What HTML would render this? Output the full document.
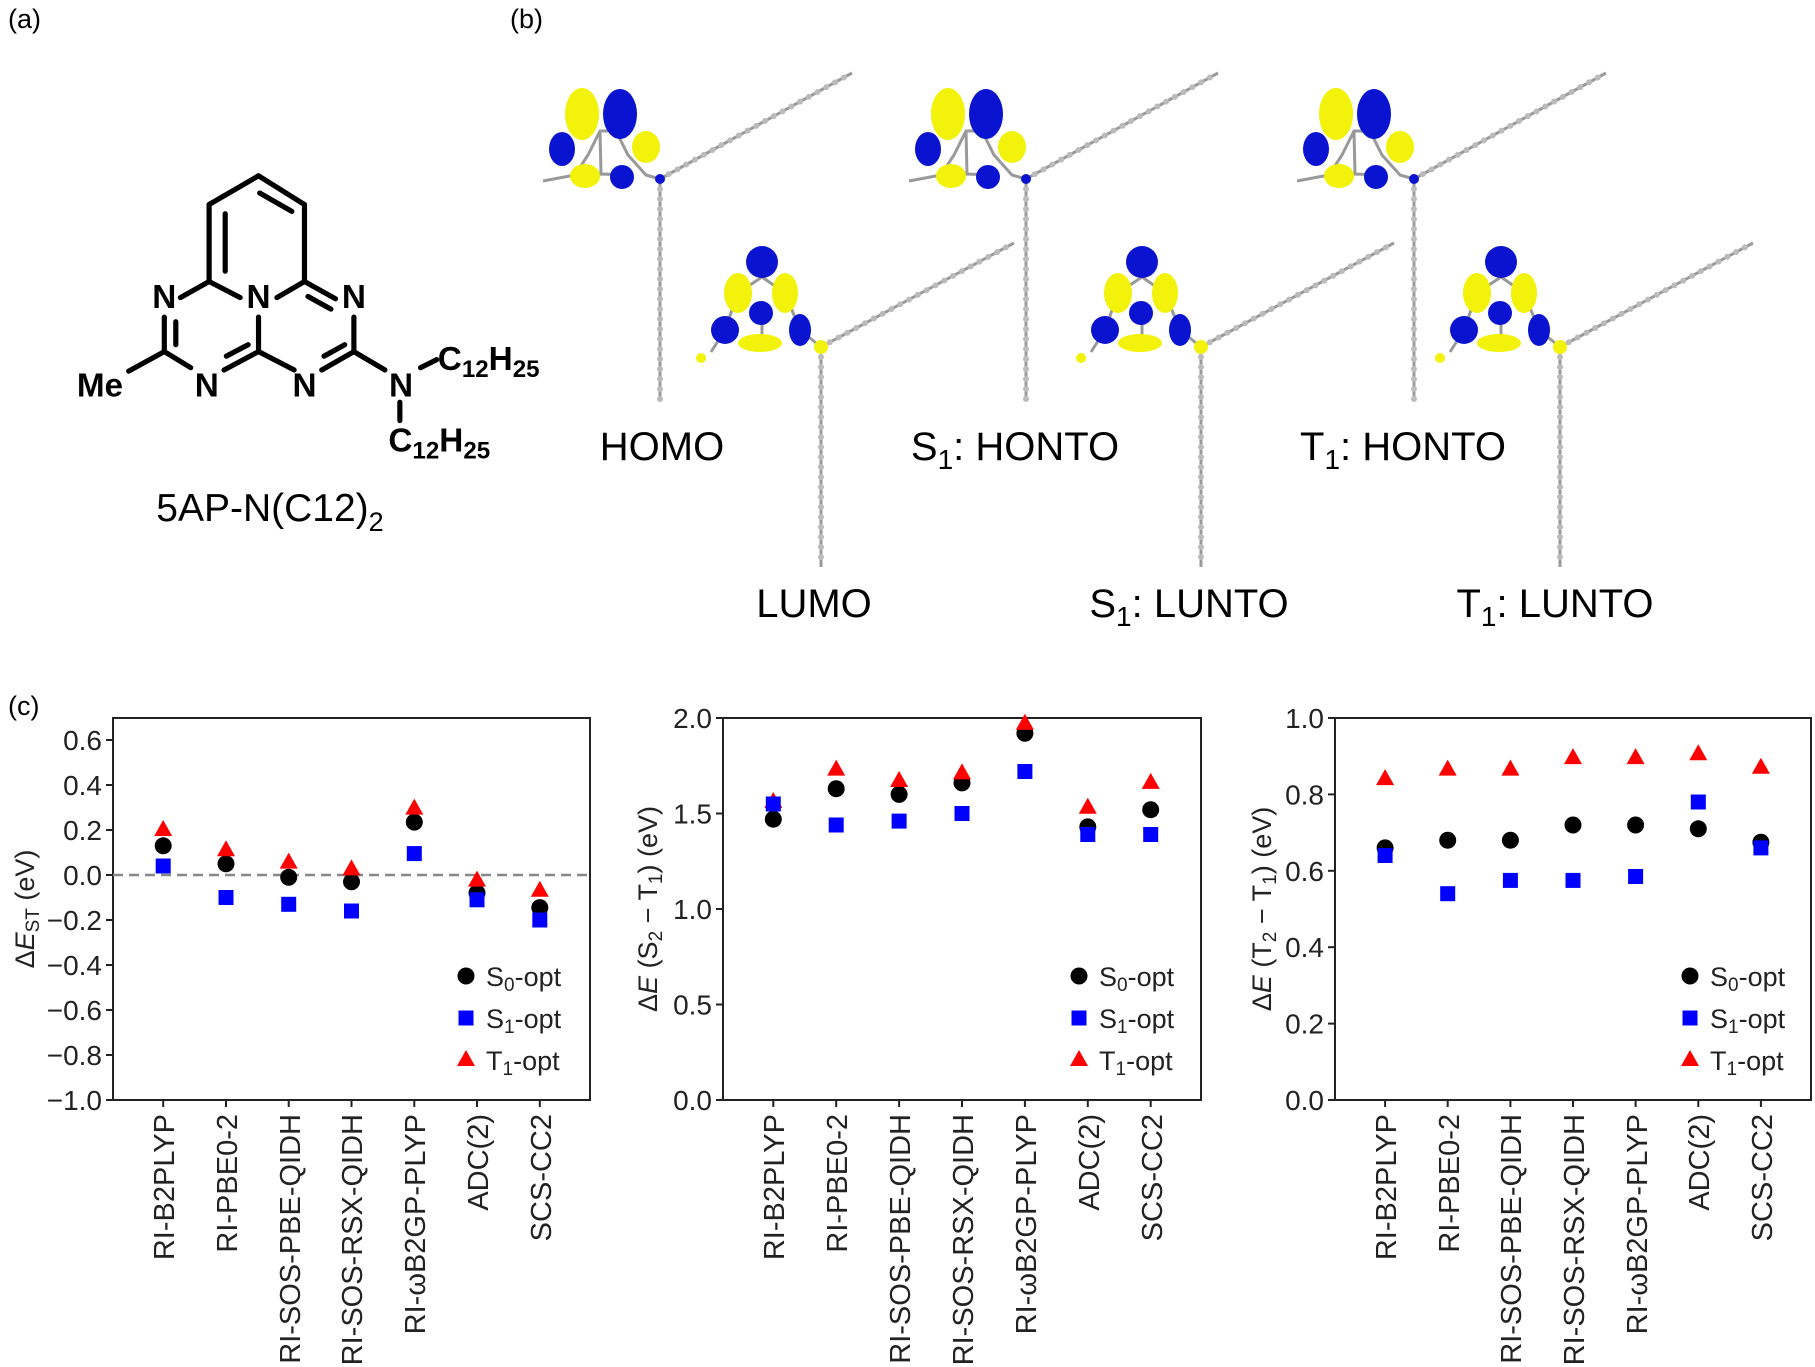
<!DOCTYPE html>
<html><head><meta charset="utf-8"><style>
html,body{margin:0;padding:0;background:#fff}
svg{display:block}
text{font-family:"Liberation Sans",sans-serif}
</style></head><body>
<svg width="1815" height="1367" viewBox="0 0 1815 1367" xmlns="http://www.w3.org/2000/svg">
<defs>
<circle id="c" r="8.5" fill="#000"/>
<rect id="s" x="-7.5" y="-7.5" width="15" height="15" fill="#0000ff"/>
<polygon id="t" points="0,-10 9,6 -9,6" fill="#ff0000"/>
<g id="homo">
 <line x1="0" y1="0" x2="192" y2="-106" stroke="#9a9a9a" stroke-width="3"/>
 <line x1="0" y1="0" x2="192" y2="-106" stroke="#bbb" stroke-width="6" stroke-dasharray="0 10" stroke-linecap="round"/>
 <line x1="0" y1="0" x2="0" y2="222" stroke="#9a9a9a" stroke-width="3"/>
 <line x1="0" y1="0" x2="0" y2="222" stroke="#bbb" stroke-width="6" stroke-dasharray="0 10" stroke-linecap="round"/>
 <path d="M-117,2 L-85,-4 L-72,-24 L-60,-48 L-44,-48 L-32,-24 L-14,-4 L0,0 M-60,-48 L-59,-5 M-85,-4 L-59,-5 L-32,-4" stroke="#999" stroke-width="3" fill="none"/>
 <ellipse cx="-78" cy="-65" rx="17" ry="26" fill="#f2f20a"/>
 <ellipse cx="-40" cy="-65" rx="17" ry="25" fill="#0a14d0"/>
 <ellipse cx="-98" cy="-30" rx="13" ry="17" fill="#0a14d0"/>
 <ellipse cx="-14" cy="-32" rx="14" ry="16" fill="#f2f20a"/>
 <ellipse cx="-75" cy="-3" rx="15" ry="12" fill="#f2f20a"/>
 <ellipse cx="-38" cy="-2" rx="12" ry="12" fill="#0a14d0"/>
 <circle cx="0" cy="0" r="5" fill="#0a14d0"/>
</g>
<g id="lumo">
 <line x1="0" y1="0" x2="193" y2="-104" stroke="#9a9a9a" stroke-width="3"/>
 <line x1="0" y1="0" x2="193" y2="-104" stroke="#bbb" stroke-width="6" stroke-dasharray="0 10" stroke-linecap="round"/>
 <line x1="0" y1="0" x2="0" y2="220" stroke="#9a9a9a" stroke-width="3"/>
 <line x1="0" y1="0" x2="0" y2="220" stroke="#bbb" stroke-width="6" stroke-dasharray="0 10" stroke-linecap="round"/>
 <path d="M-110,5 L-96,-17 L-83,-54 L-59,-70 L-36,-54 L-21,-17 L0,0 M-59,-34 L-59,-5" stroke="#999" stroke-width="3" fill="none"/>
 <circle cx="-59" cy="-85" r="16" fill="#0a14d0"/>
 <ellipse cx="-83" cy="-54" rx="14" ry="20" fill="#f2f20a"/>
 <ellipse cx="-36" cy="-54" rx="13" ry="20" fill="#f2f20a"/>
 <circle cx="-60" cy="-34" r="12" fill="#0a14d0"/>
 <circle cx="-96" cy="-17" r="14" fill="#0a14d0"/>
 <ellipse cx="-21" cy="-17" rx="11" ry="16" fill="#0a14d0"/>
 <ellipse cx="-61" cy="-4" rx="22" ry="9" fill="#f2f20a"/>
 <circle cx="0" cy="0" r="7" fill="#f2f20a"/>
 <circle cx="-120" cy="11" r="5" fill="#f2f20a"/>
</g>
</defs>

<text x="8" y="28" font-size="27">(a)</text>
<text x="510" y="28" font-size="27">(b)</text>
<text x="8" y="715" font-size="27">(c)</text>

<g transform="scale(1.149)">
<g stroke="#000" stroke-width="4.5" fill="none" stroke-linecap="round">
 <line x1="225" y1="153" x2="182" y2="178"/><line x1="225" y1="153" x2="265" y2="178"/>
 <line x1="226" y1="168" x2="254" y2="184"/>
 <line x1="182" y1="178" x2="182" y2="245"/><line x1="196" y1="186" x2="196" y2="236"/>
 <line x1="265" y1="178" x2="265" y2="245"/>
 <line x1="182" y1="245" x2="157" y2="259"/><line x1="182" y1="245" x2="209" y2="259"/>
 <line x1="265" y1="245" x2="241" y2="259"/><line x1="265" y1="245" x2="292" y2="260"/>
 <line x1="268" y1="258" x2="288" y2="269"/>
 <line x1="225" y1="276" x2="225" y2="306"/>
 <line x1="143" y1="276" x2="143" y2="306"/><line x1="153" y1="280" x2="153" y2="300"/>
 <line x1="143" y1="306" x2="112" y2="323"/><line x1="143" y1="306" x2="166" y2="320"/>
 <line x1="195" y1="322" x2="225" y2="306"/><line x1="197" y1="310" x2="216" y2="300"/>
 <line x1="225" y1="306" x2="256" y2="322"/>
 <line x1="280" y1="322" x2="308" y2="306"/><line x1="282" y1="310" x2="300" y2="300"/>
 <line x1="308" y1="276" x2="308" y2="306"/>
 <line x1="308" y1="306" x2="335" y2="322"/>
 <line x1="366" y1="320" x2="380" y2="313"/>
 <line x1="348" y1="350" x2="348" y2="366"/>
</g>
<g font-weight="bold" font-size="29" text-anchor="middle">
 <text x="143" y="268">N</text><text x="225" y="268">N</text><text x="308" y="268">N</text>
 <text x="180" y="345">N</text><text x="265" y="345">N</text><text x="349" y="345">N</text>
 <text x="87" y="345">Me</text>
 <text x="381" y="322" text-anchor="start">C<tspan font-size="21" dy="6">12</tspan><tspan dy="-6">H</tspan><tspan font-size="21" dy="6">25</tspan></text>
 <text x="338" y="393" text-anchor="start">C<tspan font-size="21" dy="6">12</tspan><tspan dy="-6">H</tspan><tspan font-size="21" dy="6">25</tspan></text>
</g>
</g>
<text x="270" y="521" font-size="39" text-anchor="middle">5AP-N(C12)<tspan font-size="27" dy="10">2</tspan></text>

<use href="#homo" x="660" y="179"/>
<use href="#homo" x="1026" y="179"/>
<use href="#homo" x="1414" y="179"/>
<use href="#lumo" x="821" y="347"/>
<use href="#lumo" x="1201" y="347"/>
<use href="#lumo" x="1560" y="347"/>
<g font-size="40" text-anchor="middle">
 <text x="662" y="460">HOMO</text>
 <text x="1015" y="460">S<tspan font-size="28" dy="9">1</tspan><tspan dy="-9">: HONTO</tspan></text>
 <text x="1403" y="460">T<tspan font-size="28" dy="9">1</tspan><tspan dy="-9">: HONTO</tspan></text>
 <text x="814" y="617">LUMO</text>
 <text x="1189" y="617">S<tspan font-size="28" dy="9">1</tspan><tspan dy="-9">: LUNTO</tspan></text>
 <text x="1555" y="617">T<tspan font-size="28" dy="9">1</tspan><tspan dy="-9">: LUNTO</tspan></text>
</g>

<!-- ===== Panel 1 ===== -->
<rect x="113" y="718" width="477" height="382" fill="none" stroke="#222" stroke-width="2"/>
<line x1="113" y1="875" x2="590" y2="875" stroke="#888" stroke-width="2.5" stroke-dasharray="10 6"/>
<g stroke="#222" stroke-width="2">
<line x1="106" y1="1100" x2="113" y2="1100"/><line x1="106" y1="1055" x2="113" y2="1055"/><line x1="106" y1="1010" x2="113" y2="1010"/><line x1="106" y1="965" x2="113" y2="965"/><line x1="106" y1="920" x2="113" y2="920"/><line x1="106" y1="875" x2="113" y2="875"/><line x1="106" y1="830" x2="113" y2="830"/><line x1="106" y1="785" x2="113" y2="785"/><line x1="106" y1="740" x2="113" y2="740"/>
<line x1="163.2" y1="1100" x2="163.2" y2="1107"/><line x1="226" y1="1100" x2="226" y2="1107"/><line x1="288.7" y1="1100" x2="288.7" y2="1107"/><line x1="351.5" y1="1100" x2="351.5" y2="1107"/><line x1="414.3" y1="1100" x2="414.3" y2="1107"/><line x1="477" y1="1100" x2="477" y2="1107"/><line x1="539.8" y1="1100" x2="539.8" y2="1107"/>
</g>
<g font-size="28" text-anchor="end" fill="#222">
<text x="102" y="1110">−1.0</text><text x="102" y="1065">−0.8</text><text x="102" y="1020">−0.6</text><text x="102" y="975">−0.4</text><text x="102" y="930">−0.2</text><text x="102" y="885">0.0</text><text x="102" y="840">0.2</text><text x="102" y="795">0.4</text><text x="102" y="750">0.6</text>
</g>
<text transform="translate(34,909) rotate(-90)" font-size="27" text-anchor="middle" fill="#222">Δ<tspan font-style="italic">E</tspan><tspan font-size="19" dy="5">ST</tspan><tspan dy="-5"> (eV)</tspan></text>
<g>
<use href="#c" x="163.2" y="845.8"/><use href="#c" x="226" y="863.8"/><use href="#c" x="288.7" y="877.3"/><use href="#c" x="351.5" y="881.8"/><use href="#c" x="414.3" y="822.1"/><use href="#c" x="477" y="893"/><use href="#c" x="539.8" y="907.6"/>
<use href="#t" x="163.2" y="830"/><use href="#t" x="226" y="850.3"/><use href="#t" x="288.7" y="862.6"/><use href="#t" x="351.5" y="869.4"/><use href="#t" x="414.3" y="808.6"/><use href="#t" x="477" y="880.6"/><use href="#t" x="539.8" y="890.8"/>
<use href="#s" x="163.2" y="866"/><use href="#s" x="226" y="897.5"/><use href="#s" x="288.7" y="904.3"/><use href="#s" x="351.5" y="911"/><use href="#s" x="414.3" y="853.6"/><use href="#s" x="477" y="899.8"/><use href="#s" x="539.8" y="920"/>
</g>
<use href="#c" x="466" y="976"/><use href="#s" x="466" y="1018"/><use href="#t" x="466" y="1060"/>
<g font-size="27" fill="#222">
<text x="486" y="986">S<tspan font-size="19" dy="5">0</tspan><tspan dy="-5">-opt</tspan></text>
<text x="486" y="1028">S<tspan font-size="19" dy="5">1</tspan><tspan dy="-5">-opt</tspan></text>
<text x="486" y="1070">T<tspan font-size="19" dy="5">1</tspan><tspan dy="-5">-opt</tspan></text>
</g>
<g font-size="29" text-anchor="end" fill="#222">
<text transform="translate(174,1114) rotate(-90)">RI-B2PLYP</text>
<text transform="translate(237,1114) rotate(-90)">RI-PBE0-2</text>
<text transform="translate(300,1114) rotate(-90)">RI-SOS-PBE-QIDH</text>
<text transform="translate(362,1114) rotate(-90)">RI-SOS-RSX-QIDH</text>
<text transform="translate(425,1114) rotate(-90)">RI-ωB2GP-PLYP</text>
<text transform="translate(488,1114) rotate(-90)">ADC(2)</text>
<text transform="translate(551,1114) rotate(-90)">SCS-CC2</text>
</g>

<!-- ===== Panel 2 ===== -->
<rect x="723" y="718" width="478" height="382" fill="none" stroke="#222" stroke-width="2"/>
<g stroke="#222" stroke-width="2">
<line x1="716" y1="1100" x2="723" y2="1100"/><line x1="716" y1="1004.5" x2="723" y2="1004.5"/><line x1="716" y1="909" x2="723" y2="909"/><line x1="716" y1="813.5" x2="723" y2="813.5"/><line x1="716" y1="718" x2="723" y2="718"/>
<line x1="773.3" y1="1100" x2="773.3" y2="1107"/><line x1="836.2" y1="1100" x2="836.2" y2="1107"/><line x1="899.1" y1="1100" x2="899.1" y2="1107"/><line x1="962" y1="1100" x2="962" y2="1107"/><line x1="1024.9" y1="1100" x2="1024.9" y2="1107"/><line x1="1087.8" y1="1100" x2="1087.8" y2="1107"/><line x1="1150.7" y1="1100" x2="1150.7" y2="1107"/>
</g>
<g font-size="28" text-anchor="end" fill="#222">
<text x="712" y="1110">0.0</text><text x="712" y="1014.5">0.5</text><text x="712" y="919">1.0</text><text x="712" y="823.5">1.5</text><text x="712" y="728">2.0</text>
</g>
<text transform="translate(657,909) rotate(-90)" font-size="27" text-anchor="middle" fill="#222">Δ<tspan font-style="italic">E</tspan> (S<tspan font-size="19" dy="5">2</tspan><tspan dy="-5"> − T</tspan><tspan font-size="19" dy="5">1</tspan><tspan dy="-5">) (eV)</tspan></text>
<g>
<use href="#c" x="773.3" y="819.2"/><use href="#c" x="836.2" y="788.7"/><use href="#c" x="899.1" y="794.4"/><use href="#c" x="962" y="782.9"/><use href="#c" x="1024.9" y="733.3"/><use href="#c" x="1087.8" y="826.9"/><use href="#c" x="1150.7" y="809.7"/>
<use href="#t" x="773.3" y="802"/><use href="#t" x="836.2" y="769.6"/><use href="#t" x="899.1" y="781"/><use href="#t" x="962" y="773.4"/><use href="#t" x="1024.9" y="723.7"/><use href="#t" x="1087.8" y="807.8"/><use href="#t" x="1150.7" y="782.9"/>
<use href="#s" x="773.3" y="804"/><use href="#s" x="836.2" y="825"/><use href="#s" x="899.1" y="821.1"/><use href="#s" x="962" y="813.5"/><use href="#s" x="1024.9" y="771.5"/><use href="#s" x="1087.8" y="834.5"/><use href="#s" x="1150.7" y="834.5"/>
</g>
<use href="#c" x="1079" y="976"/><use href="#s" x="1079" y="1018"/><use href="#t" x="1079" y="1060"/>
<g font-size="27" fill="#222">
<text x="1099" y="986">S<tspan font-size="19" dy="5">0</tspan><tspan dy="-5">-opt</tspan></text>
<text x="1099" y="1028">S<tspan font-size="19" dy="5">1</tspan><tspan dy="-5">-opt</tspan></text>
<text x="1099" y="1070">T<tspan font-size="19" dy="5">1</tspan><tspan dy="-5">-opt</tspan></text>
</g>
<g font-size="29" text-anchor="end" fill="#222">
<text transform="translate(784,1114) rotate(-90)">RI-B2PLYP</text>
<text transform="translate(847,1114) rotate(-90)">RI-PBE0-2</text>
<text transform="translate(910,1114) rotate(-90)">RI-SOS-PBE-QIDH</text>
<text transform="translate(973,1114) rotate(-90)">RI-SOS-RSX-QIDH</text>
<text transform="translate(1036,1114) rotate(-90)">RI-ωB2GP-PLYP</text>
<text transform="translate(1099,1114) rotate(-90)">ADC(2)</text>
<text transform="translate(1162,1114) rotate(-90)">SCS-CC2</text>
</g>

<!-- ===== Panel 3 ===== -->
<rect x="1335" y="718" width="476" height="382" fill="none" stroke="#222" stroke-width="2"/>
<g stroke="#222" stroke-width="2">
<line x1="1328" y1="1100" x2="1335" y2="1100"/><line x1="1328" y1="1023.6" x2="1335" y2="1023.6"/><line x1="1328" y1="947.2" x2="1335" y2="947.2"/><line x1="1328" y1="870.8" x2="1335" y2="870.8"/><line x1="1328" y1="794.4" x2="1335" y2="794.4"/><line x1="1328" y1="718" x2="1335" y2="718"/>
<line x1="1385.1" y1="1100" x2="1385.1" y2="1107"/><line x1="1447.7" y1="1100" x2="1447.7" y2="1107"/><line x1="1510.4" y1="1100" x2="1510.4" y2="1107"/><line x1="1573" y1="1100" x2="1573" y2="1107"/><line x1="1635.6" y1="1100" x2="1635.6" y2="1107"/><line x1="1698.3" y1="1100" x2="1698.3" y2="1107"/><line x1="1760.9" y1="1100" x2="1760.9" y2="1107"/>
</g>
<g font-size="28" text-anchor="end" fill="#222">
<text x="1324" y="1110">0.0</text><text x="1324" y="1033.6">0.2</text><text x="1324" y="957.2">0.4</text><text x="1324" y="880.8">0.6</text><text x="1324" y="804.4">0.8</text><text x="1324" y="728">1.0</text>
</g>
<text transform="translate(1271,909) rotate(-90)" font-size="27" text-anchor="middle" fill="#222">Δ<tspan font-style="italic">E</tspan> (T<tspan font-size="19" dy="5">2</tspan><tspan dy="-5"> − T</tspan><tspan font-size="19" dy="5">1</tspan><tspan dy="-5">) (eV)</tspan></text>
<g>
<use href="#c" x="1385.1" y="847.9"/><use href="#c" x="1447.7" y="840.2"/><use href="#c" x="1510.4" y="840.2"/><use href="#c" x="1573" y="825"/><use href="#c" x="1635.6" y="825"/><use href="#c" x="1698.3" y="828.8"/><use href="#c" x="1760.9" y="842.2"/>
<use href="#t" x="1385.1" y="779.1"/><use href="#t" x="1447.7" y="769.6"/><use href="#t" x="1510.4" y="769.6"/><use href="#t" x="1573" y="758.1"/><use href="#t" x="1635.6" y="758.1"/><use href="#t" x="1698.3" y="754.3"/><use href="#t" x="1760.9" y="767.7"/>
<use href="#s" x="1385.1" y="855.5"/><use href="#s" x="1447.7" y="893.7"/><use href="#s" x="1510.4" y="880.4"/><use href="#s" x="1573" y="880.4"/><use href="#s" x="1635.6" y="876.5"/><use href="#s" x="1698.3" y="802"/><use href="#s" x="1760.9" y="847.9"/>
</g>
<use href="#c" x="1690" y="976"/><use href="#s" x="1690" y="1018"/><use href="#t" x="1690" y="1060"/>
<g font-size="27" fill="#222">
<text x="1710" y="986">S<tspan font-size="19" dy="5">0</tspan><tspan dy="-5">-opt</tspan></text>
<text x="1710" y="1028">S<tspan font-size="19" dy="5">1</tspan><tspan dy="-5">-opt</tspan></text>
<text x="1710" y="1070">T<tspan font-size="19" dy="5">1</tspan><tspan dy="-5">-opt</tspan></text>
</g>
<g font-size="29" text-anchor="end" fill="#222">
<text transform="translate(1396,1114) rotate(-90)">RI-B2PLYP</text>
<text transform="translate(1459,1114) rotate(-90)">RI-PBE0-2</text>
<text transform="translate(1521,1114) rotate(-90)">RI-SOS-PBE-QIDH</text>
<text transform="translate(1584,1114) rotate(-90)">RI-SOS-RSX-QIDH</text>
<text transform="translate(1647,1114) rotate(-90)">RI-ωB2GP-PLYP</text>
<text transform="translate(1709,1114) rotate(-90)">ADC(2)</text>
<text transform="translate(1772,1114) rotate(-90)">SCS-CC2</text>
</g>
</svg>
</body></html>
